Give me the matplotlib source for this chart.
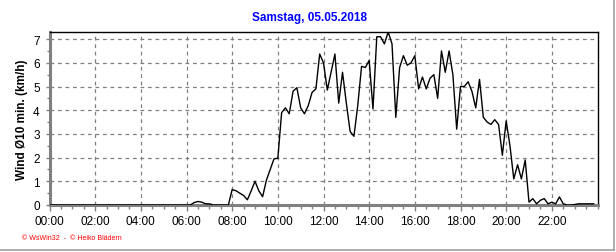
import matplotlib
matplotlib.use('Agg')
import matplotlib.pyplot as plt
from matplotlib.lines import Line2D
from matplotlib.ticker import MultipleLocator
import numpy as np

plt.rcParams['font.family'] = ['Liberation Sans', 'DejaVu Sans']

# wind (km/h), 10 minute values from 00:00 to 23:50
wind = [0.0] * 38 + [
    0.1, 0.15, 0.12, 0.05, 0.05, 0.0, 0.0, 0.0, 0.0, 0.0,      # 06:20 - 07:50
    0.65, 0.6, 0.5, 0.4, 0.22, 0.6, 1.0, 0.6, 0.35, 1.05, 1.5, 1.95,   # 08:00 - 09:50
    1.97, 3.9, 4.1, 3.85, 4.8, 4.95, 4.1, 3.85, 4.2, 4.75, 4.9, 6.37,  # 10:00 - 11:50
    6.0, 4.85, 5.6, 6.37, 4.3, 5.6, 4.3, 3.1, 2.9, 4.2, 5.85, 5.8,     # 12:00 - 13:50
    6.1, 4.05, 7.1, 7.1, 6.8, 7.3, 6.8, 3.7, 5.8, 6.3, 5.9, 6.0,       # 14:00 - 15:50
    6.3, 4.9, 5.4, 4.9, 5.35, 5.5, 4.5, 6.5, 5.6, 6.5, 5.5, 3.2,       # 16:00 - 17:50
    5.0, 5.0, 5.2, 4.8, 4.1, 5.3, 3.7, 3.5, 3.4, 3.6, 3.4, 2.1,        # 18:00 - 19:50
    3.55, 2.5, 1.1, 1.7, 1.1, 1.9, 0.12, 0.27, 0.05, 0.2, 0.27, 0.05,  # 20:00 - 21:50
    0.12, 0.05, 0.34, 0.05, 0.0, 0.0, 0.02, 0.05, 0.05, 0.05, 0.05, 0.05,  # 22:00 - 23:50
]
hours = np.arange(len(wind)) / 6.0

xtick_hours = list(range(0, 24, 2))
xtick_labels = ['%02d:00' % h for h in xtick_hours]
title = 'Samstag, 05.05.2018'
ylabel = 'Wind Ø10 min. (km/h)'
footer = '© WsWin32  -  © Heiko Blädern'

fig = plt.figure(figsize=(6.16, 2.53), dpi=100)
ax = fig.add_axes([49.5 / 616, 1 - 206 / 253, 548 / 616, 173 / 253])

ax.plot(hours, wind, color='black', linewidth=1.0, zorder=3)

ax.set_xlim(0, 24)
ax.set_ylim(0, 7.3)
ax.set_xticks(xtick_hours)
ax.set_xticklabels(xtick_labels)
ax.xaxis.set_minor_locator(MultipleLocator(0.5))
ax.set_yticks(range(0, 8))
ax.yaxis.set_minor_locator(MultipleLocator(0.5))

ax.grid(True, which='major', color='#808080', linestyle=(0, (3, 3)), linewidth=0.9)
ax.tick_params(which='both', direction='out', color='#808080', labelsize=8.5)
ax.tick_params(axis='x', which='major', length=4, width=1, pad=3)
ax.tick_params(axis='x', which='minor', length=3, width=1)
ax.tick_params(axis='y', which='major', length=3, width=1, pad=4)
ax.tick_params(axis='y', which='minor', length=2, width=1)

for side in ['left', 'bottom']:
    ax.spines[side].set_color('#808080')
    ax.spines[side].set_linewidth(2.2)
for side in ['top', 'right']:
    ax.spines[side].set_color('black')
    ax.spines[side].set_linewidth(1.0)

fig.text(309 / 616, 1 - 18 / 253, title, color='#0000ff', fontsize=8.5,
         fontweight='bold', ha='center', va='center')
fig.text(22 / 616, 1 - 120 / 253, ylabel, fontsize=8.5, fontweight='bold',
         rotation=90, ha='center', va='center')
fig.text(22 / 616, 1 - 239 / 253, footer, color='#ff0000', fontsize=5,
         ha='left', va='center')

# panel border at right and bottom
fig.add_artist(Line2D([0, 613.5 / 616], [1 - 251 / 253] * 2, color='#a0a0a0', linewidth=1.2))
fig.add_artist(Line2D([613.5 / 616] * 2, [1 - 251 / 253, 1], color='#a0a0a0', linewidth=1.2))

fig.savefig('out.png', dpi=100)
